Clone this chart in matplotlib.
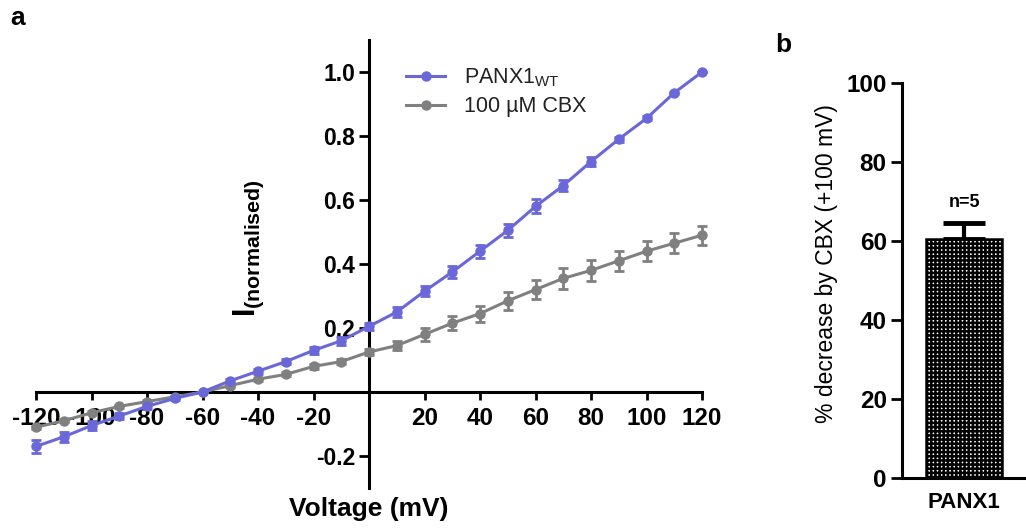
import numpy as np
import matplotlib.pyplot as plt
from matplotlib.lines import Line2D

plt.rcParams['font.family'] = ['Liberation Sans', 'DejaVu Sans']
plt.rcParams['mathtext.fontset'] = 'custom'
plt.rcParams['mathtext.rm'] = 'Liberation Sans'
plt.rcParams['mathtext.bf'] = 'Liberation Sans:bold'
plt.rcParams['hatch.linewidth'] = 1.8

# Panel a: normalised I-V curves
voltage = [-120, -110, -100, -90, -80, -70, -60, -50, -40, -30, -20, -10, 0,
           10, 20, 30, 40, 50, 60, 70, 80, 90, 100, 110, 120]
wt_mean = [-0.17, -0.14, -0.105, -0.075, -0.045, -0.02, 0.0, 0.035, 0.065, 0.095, 0.13, 0.16, 0.205,
           0.25, 0.315, 0.375, 0.44, 0.505, 0.58, 0.645, 0.72, 0.79, 0.855, 0.935, 1.0]
wt_err = [0.02, 0.016, 0.015, 0.01, 0.008, 0.006, 0.0, 0.006, 0.008, 0.008, 0.01, 0.012, 0.012,
          0.015, 0.016, 0.018, 0.02, 0.02, 0.022, 0.018, 0.015, 0.008, 0.006, 0.004, 0.0]
cbx_mean = [-0.11, -0.09, -0.065, -0.045, -0.03, -0.015, 0.0, 0.02, 0.04, 0.055, 0.08, 0.095, 0.125,
            0.145, 0.18, 0.215, 0.245, 0.285, 0.32, 0.355, 0.38, 0.41, 0.44, 0.465, 0.49]
cbx_err = [0.005, 0.005, 0.005, 0.004, 0.004, 0.003, 0.0, 0.004, 0.005, 0.006, 0.007, 0.008, 0.009,
           0.015, 0.02, 0.022, 0.025, 0.028, 0.03, 0.032, 0.032, 0.032, 0.032, 0.032, 0.03]
xticks_a = [-120, -100, -80, -60, -40, -20, 20, 40, 60, 80, 100, 120]
yticks_a = [-0.2, 0.2, 0.4, 0.6, 0.8, 1.0]

# Panel b: % decrease by CBX
groups = ['PANX1']
decrease = [60.5]
decrease_err = [4.0]
n_label = 'n=5'

blue = '#6A67D8'
grey = '#808080'

fig = plt.figure(figsize=(10.26, 5.28), dpi=100)

ax = fig.add_axes([36 / 1026, 40 / 528, 666 / 1026, 448 / 528])
ax.errorbar(voltage, cbx_mean, yerr=cbx_err, color=grey, lw=2.2, marker='o', ms=6.5,
            capsize=3.5, capthick=2, elinewidth=2, clip_on=False, zorder=3)
ax.errorbar(voltage, wt_mean, yerr=wt_err, color=blue, lw=2.2, marker='o', ms=6.5,
            capsize=3.5, capthick=2, elinewidth=2, clip_on=False, zorder=4)
ax.set_xlim(-120, 120)
ax.set_ylim(-0.3, 1.1)
ax.spines['left'].set_position(('data', 0))
ax.spines['bottom'].set_position(('data', 0))
ax.spines['right'].set_visible(False)
ax.spines['top'].set_visible(False)
for s in ['left', 'bottom']:
    ax.spines[s].set_linewidth(2.2)
ax.set_xticks(xticks_a)
ax.set_xticklabels([str(v) for v in xticks_a])
ax.set_yticks(yticks_a)
ax.set_yticklabels(['%.1f' % v for v in yticks_a])
ax.tick_params(axis='x', length=6, width=2, labelsize=17.5, pad=5)
ax.tick_params(axis='y', length=7, width=2, labelsize=16.5, pad=3)
for lab in ax.get_xticklabels() + ax.get_yticklabels():
    lab.set_fontweight('bold')
ax.set_xlabel('Voltage (mV)', fontsize=19, fontweight='bold')
ax.xaxis.set_label_coords(0.5, -0.02)
ax.set_ylabel(r'$\mathbf{I_{(normalised)}}$', fontsize=22)
ax.yaxis.set_label_coords(0.345, 0.535)
handles = [Line2D([], [], color=blue, lw=2.2, marker='o', ms=6.5),
           Line2D([], [], color=grey, lw=2.2, marker='o', ms=6.5)]
labels = [r'PANX1$_{\mathrm{WT}}$', '100 µM CBX']
ax.legend(handles, labels, loc='upper left', bbox_to_anchor=(0.527, 0.985),
          frameon=False, fontsize=15.5, handlelength=1.8, labelspacing=0.35, handletextpad=0.9,
          labelcolor='#222222')

axb = fig.add_axes([902 / 1026, 50 / 528, 124 / 1026, 428 / 528])
bars = axb.bar(range(len(groups)), decrease, width=0.62, color='white', edgecolor='black',
               hatch='++++', lw=1.8, zorder=2)
axb.errorbar(range(len(groups)), decrease, yerr=[[0] * len(groups), decrease_err], fmt='none',
             ecolor='black', elinewidth=3, capsize=15, capthick=3.5, zorder=1)
axb.text(0, decrease[0] + decrease_err[0] + 3, n_label, ha='center', va='bottom',
         fontsize=13, fontweight='bold')
axb.set_xlim(-0.5, 0.5)
axb.set_ylim(0, 108.4)
axb.spines['right'].set_visible(False)
axb.spines['top'].set_visible(False)
axb.spines['left'].set_bounds(0, 100)
for s in ['left', 'bottom']:
    axb.spines[s].set_linewidth(2.2)
axb.set_yticks([0, 20, 40, 60, 80, 100])
axb.set_xticks(range(len(groups)))
axb.set_xticklabels(groups, fontsize=16, fontweight='bold')
axb.tick_params(axis='y', length=8, width=2, labelsize=17.5, pad=3)
axb.tick_params(axis='x', length=0, pad=10)
for lab in axb.get_yticklabels():
    lab.set_fontweight('bold')
axb.set_ylabel('% decrease by CBX (+100 mV)', fontsize=16.5, labelpad=6)

fig.text(10 / 1026, 1 - 18 / 528, 'a', fontsize=19, fontweight='bold', va='center', ha='left')
fig.text(775 / 1026, 1 - 45 / 528, 'b', fontsize=19, fontweight='bold', va='center', ha='left')

fig.savefig('out.png', dpi=100)
